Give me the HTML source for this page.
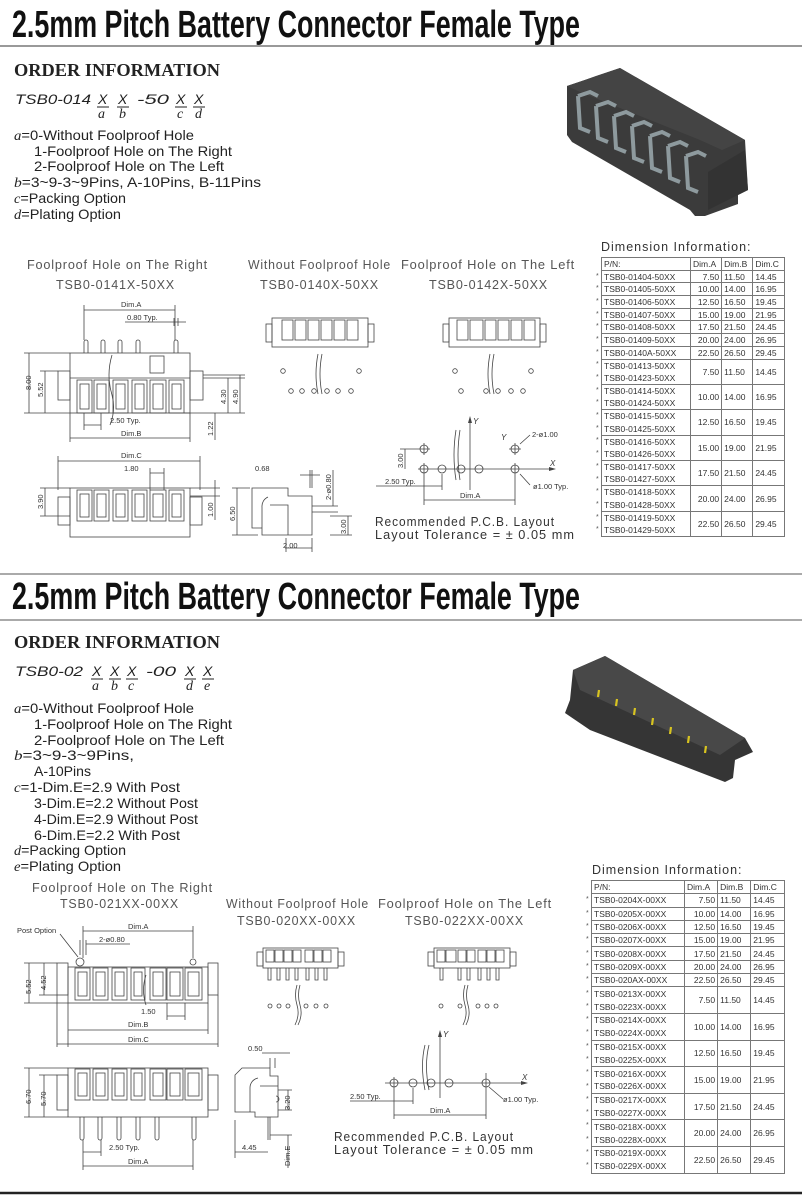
<!DOCTYPE html>
<html><head><meta charset="utf-8">
<style>
html,body{margin:0;padding:0;background:#fff;}
body{width:802px;height:1200px;position:relative;overflow:hidden;font-family:"Liberation Sans",sans-serif;}
svg{position:absolute;left:0;top:0;}
table.t{position:absolute;border-collapse:collapse;font-family:"Liberation Sans",sans-serif;font-size:8.5px;color:#333;}
table.t td{border:1px solid #777;padding:0 2px;line-height:10px;white-space:nowrap;}
table.t td.s{border:none;padding:0;width:5px;font-size:7px;color:#555;text-align:left;}
table.t td.n{text-align:right;}
.dt{position:absolute;font-size:12.5px;color:#333;letter-spacing:1px;}
</style></head><body>
<svg width="802" height="1200" viewBox="0 0 802 1200" font-family="Liberation Sans, sans-serif">
<!-- Titles -->
<text x="12" y="37" font-size="38" font-weight="bold" textLength="568" lengthAdjust="spacingAndGlyphs" fill="#111">2.5mm Pitch Battery Connector Female Type</text>
<line x1="0" y1="46" x2="802" y2="46" stroke="#999" stroke-width="2"/>
<line x1="0" y1="574" x2="802" y2="574" stroke="#aaa" stroke-width="2"/>
<text x="12" y="609" font-size="38" font-weight="bold" textLength="568" lengthAdjust="spacingAndGlyphs" fill="#111">2.5mm Pitch Battery Connector Female Type</text>
<line x1="0" y1="620" x2="802" y2="620" stroke="#aaa" stroke-width="2"/>
<line x1="0" y1="1193" x2="802" y2="1193" stroke="#222" stroke-width="2.5"/>

<!-- Order info 1 -->
<g fill="#222">
<text x="14" y="76" font-family="Liberation Serif, serif" font-size="18" font-weight="bold" textLength="206" lengthAdjust="spacingAndGlyphs">ORDER INFORMATION</text>
<g font-style="italic" font-size="14">
<text x="15" y="104" textLength="76" lengthAdjust="spacingAndGlyphs">TSB0-014</text>
<text x="98" y="104">X</text><text x="118" y="104">X</text>
<text x="137" y="104" textLength="32" lengthAdjust="spacingAndGlyphs">-50</text>
<text x="176" y="104">X</text><text x="194" y="104">X</text>
<text x="98" y="118" font-family="Liberation Serif, serif">a</text><text x="119" y="118" font-family="Liberation Serif, serif">b</text>
<text x="177" y="118" font-family="Liberation Serif, serif">c</text><text x="195" y="118" font-family="Liberation Serif, serif">d</text>
</g>
<g stroke="#222" stroke-width="1"><line x1="97" y1="107" x2="109" y2="107"/><line x1="117" y1="107" x2="129" y2="107"/><line x1="175" y1="107" x2="187" y2="107"/><line x1="193" y1="107" x2="205" y2="107"/></g>
<g font-size="14">
<text x="14" y="140" textLength="180" lengthAdjust="spacingAndGlyphs"><tspan font-style="italic" font-family="Liberation Serif, serif">a</tspan>=0-Without Foolproof Hole</text>
<text x="34" y="156" textLength="198" lengthAdjust="spacingAndGlyphs">1-Foolproof Hole on The Right</text>
<text x="34" y="171" textLength="190" lengthAdjust="spacingAndGlyphs">2-Foolproof Hole on The Left</text>
<text x="14" y="187" textLength="247" lengthAdjust="spacingAndGlyphs"><tspan font-style="italic" font-family="Liberation Serif, serif">b</tspan>=3~9-3~9Pins, A-10Pins, B-11Pins</text>
<text x="14" y="203" textLength="112" lengthAdjust="spacingAndGlyphs"><tspan font-style="italic" font-family="Liberation Serif, serif">c</tspan>=Packing Option</text>
<text x="14" y="219" textLength="107" lengthAdjust="spacingAndGlyphs"><tspan font-style="italic" font-family="Liberation Serif, serif">d</tspan>=Plating Option</text>
</g>
</g>

<!-- Order info 2 -->
<g fill="#222">
<text x="14" y="648" font-family="Liberation Serif, serif" font-size="18" font-weight="bold" textLength="206" lengthAdjust="spacingAndGlyphs">ORDER INFORMATION</text>
<g font-style="italic" font-size="14">
<text x="15" y="676" textLength="68" lengthAdjust="spacingAndGlyphs">TSB0-02</text>
<text x="92" y="676">X</text><text x="110" y="676">X</text><text x="127" y="676">X</text>
<text x="146" y="676" textLength="30" lengthAdjust="spacingAndGlyphs">-00</text>
<text x="185" y="676">X</text><text x="203" y="676">X</text>
<g font-family="Liberation Serif, serif"><text x="92" y="690">a</text><text x="111" y="690">b</text><text x="128" y="690">c</text><text x="186" y="690">d</text><text x="204" y="690">e</text></g>
</g>
<g stroke="#222" stroke-width="1"><line x1="91" y1="679" x2="103" y2="679"/><line x1="109" y1="679" x2="121" y2="679"/><line x1="126" y1="679" x2="138" y2="679"/><line x1="184" y1="679" x2="196" y2="679"/><line x1="202" y1="679" x2="214" y2="679"/></g>
<g font-size="14">
<text x="14" y="713" textLength="180" lengthAdjust="spacingAndGlyphs"><tspan font-style="italic" font-family="Liberation Serif, serif">a</tspan>=0-Without Foolproof Hole</text>
<text x="34" y="729" textLength="198" lengthAdjust="spacingAndGlyphs">1-Foolproof Hole on The Right</text>
<text x="34" y="745" textLength="190" lengthAdjust="spacingAndGlyphs">2-Foolproof Hole on The Left</text>
<text x="14" y="760" textLength="120" lengthAdjust="spacingAndGlyphs"><tspan font-style="italic" font-family="Liberation Serif, serif">b</tspan>=3~9-3~9Pins,</text>
<text x="34" y="776" textLength="57" lengthAdjust="spacingAndGlyphs">A-10Pins</text>
<text x="14" y="792" textLength="166" lengthAdjust="spacingAndGlyphs"><tspan font-style="italic" font-family="Liberation Serif, serif">c</tspan>=1-Dim.E=2.9 With Post</text>
<text x="34" y="808" textLength="164" lengthAdjust="spacingAndGlyphs">3-Dim.E=2.2 Without Post</text>
<text x="34" y="824" textLength="164" lengthAdjust="spacingAndGlyphs">4-Dim.E=2.9 Without Post</text>
<text x="34" y="840" textLength="146" lengthAdjust="spacingAndGlyphs">6-Dim.E=2.2 With Post</text>
<text x="14" y="855" textLength="112" lengthAdjust="spacingAndGlyphs"><tspan font-style="italic" font-family="Liberation Serif, serif">d</tspan>=Packing Option</text>
<text x="14" y="871" textLength="107" lengthAdjust="spacingAndGlyphs"><tspan font-style="italic" font-family="Liberation Serif, serif">e</tspan>=Plating Option</text>
</g>
</g>

<!-- 3D image 1 -->
<g>
<polygon points="567,86 585,80 596,76 620,68 745,140 748,190 738,195 738,204 705,216 695,216 690,210 572,142 567,135" fill="#3b3b3b"/>
<polygon points="567,86 620,68 745,140 722,150 700,140 580,92" fill="#444"/>
<g fill="none" stroke="#8e9a9e" stroke-width="4">
<path d="M578,96 L590,92 L598,96 M578,96 L580,128 L590,132"/>
<path d="M596,106 L608,102 L616,106 M596,106 L598,138 L608,142"/>
<path d="M614,116 L626,112 L634,116 M614,116 L616,148 L626,152"/>
<path d="M632,126 L644,122 L652,126 M632,126 L634,158 L644,162"/>
<path d="M650,136 L662,132 L670,136 M650,136 L652,168 L662,172"/>
<path d="M668,146 L680,142 L688,146 M668,146 L670,178 L680,182"/>
<path d="M686,156 L698,152 L706,156 M686,156 L688,188 L698,192"/>
</g>
<polygon points="708,172 745,150 748,190 708,210" fill="#333"/>
</g>

<!-- 3D image 2 -->
<g>
<polygon points="573,670 605,656 612,660 745,738 753,752 735,760 733,778 725,782 590,730 565,713 570,700" fill="#353535"/>
<polygon points="573,670 605,656 745,738 720,755 580,690" fill="#484848"/>
<g stroke="#d8c420" stroke-width="2.2">
<line x1="599" y1="690" x2="598" y2="697"/><line x1="617" y1="699" x2="616" y2="706"/><line x1="635" y1="708" x2="634" y2="715"/><line x1="653" y1="718" x2="652" y2="725"/><line x1="671" y1="727" x2="670" y2="734"/><line x1="689" y1="736" x2="688" y2="743"/><line x1="706" y1="746" x2="705" y2="753"/>
</g>
</g>

<!-- ===== Section 1 drawings ===== -->
<g font-size="12.5" fill="#555" letter-spacing="0.8">
<text x="27" y="269" textLength="181" lengthAdjust="spacingAndGlyphs">Foolproof Hole on The Right</text>
<text x="56" y="289" textLength="119" lengthAdjust="spacingAndGlyphs">TSB0-0141X-50XX</text>
<text x="248" y="269" textLength="143" lengthAdjust="spacingAndGlyphs">Without Foolproof Hole</text>
<text x="401" y="269" textLength="174" lengthAdjust="spacingAndGlyphs">Foolproof Hole on The Left</text>
<text x="260" y="289" textLength="119" lengthAdjust="spacingAndGlyphs">TSB0-0140X-50XX</text>
<text x="429" y="289" textLength="119" lengthAdjust="spacingAndGlyphs">TSB0-0142X-50XX</text>
</g>
<g fill="none" stroke="#444" stroke-width="0.8">
<path d="M84,353 V342 a2,2 0 0 1 4,0 V353 M101,353 V342 a2,2 0 0 1 4,0 V353 M118,353 V342 a2,2 0 0 1 4,0 V353 M136,353 V342 a2,2 0 0 1 4,0 V353 M174,353 V342 a2,2 0 0 1 4,0 V353"/>
<rect x="70" y="353" width="120" height="60"/>
<rect x="58" y="371" width="12" height="29"/><rect x="190" y="371" width="13" height="29"/>
<line x1="70" y1="378" x2="190" y2="378"/>
<rect x="150" y="356" width="14" height="17"/>
<rect x="77" y="380" width="15" height="33"/><rect x="80" y="384" width="9" height="25"/>
<rect x="94" y="380" width="15" height="33"/><rect x="97" y="384" width="9" height="25"/>
<rect x="113" y="380" width="15" height="33"/><rect x="116" y="384" width="9" height="25"/>
<rect x="132" y="380" width="15" height="33"/><rect x="135" y="384" width="9" height="25"/>
<rect x="150" y="380" width="16" height="33"/><rect x="153" y="384" width="10" height="25"/>
<rect x="169" y="380" width="15" height="33"/><rect x="172" y="384" width="9" height="25"/>
<path d="M112,355 q-6,20 0,40 q4,15 -2,30" />
<path d="M84,310 H175 M84,305 V340 M175,305 V340 M125,322 H186 M174,318 V326 M178,318 V326"/>
<path d="M29,353 V413 M24,353 H70 M24,413 H70 M45,371 V413 M40,371 H58"/>
<path d="M228,378 V413 M240,375 V413 M203,378 H245 M184,413 H245 M215,413 V440 M203,375 H245"/>
<path d="M84,425 H101 M84,413 V430 M101,413 V430 M70,438 H190 M70,413 V442 M190,413 V442"/>
<path d="M58,461 H200 M58,456 V490 M200,456 V490 M150,473 H164 M150,468 V490 M164,468 V490"/>
<rect x="70" y="488" width="120" height="49"/>
<rect x="58" y="497" width="12" height="28"/><rect x="190" y="497" width="12" height="28"/>
<rect x="77" y="490" width="15" height="31"/><rect x="80" y="494" width="9" height="23"/>
<rect x="94" y="490" width="15" height="31"/><rect x="97" y="494" width="9" height="23"/>
<rect x="113" y="490" width="15" height="31"/><rect x="116" y="494" width="9" height="23"/>
<rect x="132" y="490" width="15" height="31"/><rect x="135" y="494" width="9" height="23"/>
<rect x="150" y="490" width="16" height="31"/><rect x="153" y="494" width="10" height="23"/>
<rect x="169" y="490" width="15" height="31"/><rect x="172" y="494" width="9" height="23"/>
<path d="M45,488 V516 M40,488 H70 M40,516 H70 M215,480 V520 M190,488 H220 M190,496 H220"/>
<path d="M252,488 H288 V496 H312 V535 H262 V528 H252 Z M268,497 a10,10 0 0 0 -6,10 V528 M270,505 H288 V535"/>
<path d="M237,488 V535 M232,488 H250 M232,535 H258 M300,475 H320 M310,470 V488 M312,470 V488 M333,470 V506 M312,506 H338 M312,512 H338 M348,516 V535 M330,516 H352 M330,535 H352 M285,548 H312 M312,538 V552 M286,538 V552"/>
<rect x="272" y="318" width="96" height="29"/><rect x="266" y="324" width="6" height="18"/><rect x="368" y="324" width="6" height="18"/>
<rect x="282" y="320" width="11" height="20"/><rect x="295" y="320" width="11" height="20"/><rect x="308" y="320" width="11" height="20"/><rect x="321" y="320" width="11" height="20"/><rect x="334" y="320" width="11" height="20"/><rect x="347" y="320" width="11" height="20"/>
<rect x="449" y="318" width="91" height="29"/><rect x="443" y="324" width="6" height="18"/><rect x="540" y="324" width="6" height="18"/>
<rect x="457" y="320" width="11" height="20"/><rect x="470" y="320" width="13" height="20"/><rect x="485" y="320" width="11" height="20"/><rect x="498" y="320" width="11" height="20"/><rect x="511" y="320" width="11" height="20"/><rect x="524" y="320" width="11" height="20"/>
<path d="M318,354 q-4,20 0,40 M322,354 q-4,20 0,40 M490,354 q-4,20 0,40 M494,354 q-4,20 0,40"/>
<circle cx="283" cy="371" r="2.3"/><circle cx="359" cy="371" r="2.3"/>
<circle cx="291" cy="391" r="2.3"/><circle cx="302" cy="391" r="2.3"/><circle cx="314" cy="391" r="2.3"/><circle cx="327" cy="391" r="2.3"/><circle cx="338" cy="391" r="2.3"/><circle cx="351" cy="391" r="2.3"/>
<circle cx="455" cy="371" r="2.3"/><circle cx="531" cy="371" r="2.3"/>
<circle cx="461" cy="391" r="2.3"/><circle cx="486" cy="391" r="2.3"/><circle cx="498" cy="391" r="2.3"/><circle cx="511" cy="391" r="2.3"/><circle cx="523" cy="391" r="2.3"/>
<path d="M470,420 V490 M418,469 H553 M456,430 q-4,25 0,50 M460,430 q-4,25 0,50"/>
<circle cx="424" cy="469" r="4"/><circle cx="442" cy="469" r="4"/><circle cx="461" cy="469" r="4"/><circle cx="479" cy="469" r="4"/><circle cx="515" cy="469" r="4"/>
<circle cx="424" cy="449" r="4"/><circle cx="515" cy="449" r="4"/>
<path d="M424,443 V455 M418,449 H430 M515,443 V455 M509,449 H521 M424,463 V505 M515,463 V505 M442,474 V490 M376,486 H442 M424,500 H515 M405,449 V469 M400,449 H420 M520,444 L530,435 M520,474 L530,485"/>
</g>
<g fill="#444" stroke="none"><polygon points="470,416 468,423 472,423"/><polygon points="556,469 549,467 549,471"/></g>
<g font-size="7.5" fill="#333">
<text x="121" y="307">Dim.A</text><text x="127" y="320">0.80 Typ.</text>
<text x="110" y="423">2.50 Typ.</text><text x="121" y="436">Dim.B</text>
<text x="121" y="458">Dim.C</text><text x="124" y="471">1.80</text>
<text x="255" y="471">0.68</text><text x="283" y="548">2.00</text>
<text x="385" y="484">2.50 Typ.</text><text x="460" y="498">Dim.A</text>
<text x="532" y="437">2-ø1.00</text><text x="533" y="489">ø1.00 Typ.</text>
<text x="501" y="440" font-style="italic" font-size="8">Y</text><text x="473" y="424" font-style="italic" font-size="8">Y</text><text x="550" y="466" font-style="italic" font-size="8">X</text>
<text transform="translate(31,390) rotate(-90)">8.00</text>
<text transform="translate(43,397) rotate(-90)">5.52</text>
<text transform="translate(226,404) rotate(-90)">4.30</text>
<text transform="translate(238,404) rotate(-90)">4.90</text>
<text transform="translate(213,436) rotate(-90)">1.22</text>
<text transform="translate(43,509) rotate(-90)">3.90</text>
<text transform="translate(213,517) rotate(-90)">1.00</text>
<text transform="translate(235,521) rotate(-90)">6.50</text>
<text transform="translate(331,500) rotate(-90)">2-ø0.80</text>
<text transform="translate(346,534) rotate(-90)">3.00</text>
<text transform="translate(403,468) rotate(-90)">3.00</text>
</g>
<g font-size="12.5" fill="#333" letter-spacing="1">
<text x="375" y="526" textLength="180" lengthAdjust="spacingAndGlyphs">Recommended   P.C.B. Layout</text>
<text x="375" y="539" textLength="200" lengthAdjust="spacingAndGlyphs">Layout Tolerance = ± 0.05 mm</text>
</g>

<!-- ===== Section 2 drawings ===== -->
<g font-size="12.5" fill="#555" letter-spacing="0.8">
<text x="32" y="892" textLength="181" lengthAdjust="spacingAndGlyphs">Foolproof Hole on The Right</text>
<text x="60" y="908" textLength="119" lengthAdjust="spacingAndGlyphs">TSB0-021XX-00XX</text>
<text x="226" y="908" textLength="143" lengthAdjust="spacingAndGlyphs">Without Foolproof Hole</text>
<text x="378" y="908" textLength="174" lengthAdjust="spacingAndGlyphs">Foolproof Hole on The Left</text>
<text x="237" y="925" textLength="119" lengthAdjust="spacingAndGlyphs">TSB0-020XX-00XX</text>
<text x="405" y="925" textLength="119" lengthAdjust="spacingAndGlyphs">TSB0-022XX-00XX</text>
</g>
<g fill="none" stroke="#444" stroke-width="0.8">
<rect x="68" y="967" width="140" height="36"/>
<rect x="57" y="963" width="11" height="32"/><rect x="208" y="963" width="10" height="32"/>
<circle cx="80" cy="962" r="4"/><circle cx="193" cy="962" r="3"/>
<rect x="75" y="968" width="15" height="32"/><rect x="78" y="972" width="9" height="24"/>
<rect x="93" y="968" width="15" height="32"/><rect x="96" y="972" width="9" height="24"/>
<rect x="112" y="968" width="15" height="32"/><rect x="115" y="972" width="9" height="24"/>
<rect x="131" y="968" width="14" height="32"/><rect x="134" y="972" width="8" height="24"/>
<rect x="150" y="968" width="16" height="32"/><rect x="153" y="972" width="10" height="24"/>
<rect x="167" y="968" width="16" height="32"/><rect x="170" y="972" width="10" height="24"/>
<rect x="185" y="968" width="17" height="32"/><rect x="188" y="972" width="11" height="24"/>
<path d="M146,975 q-5,15 0,30"/>
<path d="M83,931 H193 M83,926 V958 M193,926 V958 M86,944 H130 M80,940 V955 M86,940 V955 M60,934 L78,957"/>
<path d="M29,963 V1003 M24,963 H57 M24,1003 H68 M44,963 V995 M39,995 H57"/>
<path d="M167,1016 H185 M167,1003 V1020 M185,1003 V1020 M68,1030 H208 M68,1003 V1047 M208,1003 V1034 M57,1044 H218 M57,995 V1047 M218,995 V1047"/>
<rect x="68" y="1068" width="140" height="49"/>
<rect x="57" y="1075" width="11" height="35"/><rect x="208" y="1075" width="10" height="35"/>
<rect x="75" y="1069" width="15" height="31"/><rect x="78" y="1073" width="9" height="23"/>
<rect x="93" y="1069" width="15" height="31"/><rect x="96" y="1073" width="9" height="23"/>
<rect x="112" y="1069" width="15" height="31"/><rect x="115" y="1073" width="9" height="23"/>
<rect x="131" y="1069" width="14" height="31"/><rect x="134" y="1073" width="8" height="23"/>
<rect x="150" y="1069" width="16" height="31"/><rect x="153" y="1073" width="10" height="23"/>
<rect x="167" y="1069" width="16" height="31"/><rect x="170" y="1073" width="10" height="23"/>
<rect x="185" y="1069" width="17" height="31"/><rect x="188" y="1073" width="11" height="23"/>
<path d="M80,1117 V1138 a2,2 0 0 0 4,0 V1117 M98,1117 V1138 a2,2 0 0 0 4,0 V1117 M117,1117 V1138 a2,2 0 0 0 4,0 V1117 M136,1117 V1138 a2,2 0 0 0 4,0 V1117 M155,1117 V1138 a2,2 0 0 0 4,0 V1117 M192,1117 V1138 a2,2 0 0 0 4,0 V1117"/>
<path d="M29,1068 V1117 M24,1068 H68 M24,1117 H68 M44,1075 V1117 M39,1075 H57"/>
<path d="M83,1152 H101 M83,1140 V1170 M101,1140 V1156 M83,1166 H193 M193,1140 V1170"/>
<path d="M242,1068 H270 V1076 H278 V1117 H255 V1112 H235 V1075 Z M258,1078 a10,10 0 0 0 -8,10 V1112 M260,1086 H278"/>
<path d="M268,1117 V1140 M270,1117 V1140 M276,1096 a3,3 0 0 1 0,6"/>
<path d="M270,1058 V1068 M275,1058 V1068 M262,1053 H290 M288,1090 V1110 M278,1090 H292 M278,1110 H292 M235,1120 V1158 M235,1152 H268 M288,1135 V1168 M270,1135 H292"/>
<rect x="263" y="948" width="75" height="20"/><rect x="257" y="952" width="6" height="14"/><rect x="338" y="952" width="6" height="14"/>
<rect x="266" y="950" width="8" height="12"/><rect x="275" y="950" width="8" height="12"/><rect x="284" y="950" width="8" height="12"/><rect x="293" y="950" width="8" height="12"/><rect x="305" y="950" width="8" height="12"/><rect x="314" y="950" width="8" height="12"/><rect x="323" y="950" width="8" height="12"/>
<path d="M268,968 V980 h3 V968 M277,968 V980 h3 V968 M286,968 V980 h3 V968 M295,968 V980 h3 V968 M306,968 V980 h3 V968 M315,968 V980 h3 V968 M324,968 V980 h3 V968"/>
<rect x="434" y="948" width="76" height="20"/><rect x="428" y="952" width="6" height="14"/><rect x="510" y="952" width="6" height="14"/>
<rect x="437" y="950" width="8" height="12"/><rect x="446" y="950" width="10" height="12"/><rect x="458" y="950" width="8" height="12"/><rect x="467" y="950" width="8" height="12"/><rect x="478" y="950" width="8" height="12"/><rect x="487" y="950" width="8" height="12"/><rect x="496" y="950" width="8" height="12"/>
<path d="M440,968 V980 h3 V968 M458,968 V980 h3 V968 M467,968 V980 h3 V968 M478,968 V980 h3 V968 M487,968 V980 h3 V968 M496,968 V980 h3 V968"/>
<path d="M297,985 q-3,10 0,20 q3,10 -2,20 M300,985 q-3,10 0,20 q3,10 -2,20 M465,985 q-3,10 0,20 q3,10 -2,20 M468,985 q-3,10 0,20 q3,10 -2,20"/>
<circle cx="270" cy="1006" r="2"/><circle cx="279" cy="1006" r="2"/><circle cx="288" cy="1006" r="2"/><circle cx="306" cy="1006" r="2"/><circle cx="316" cy="1006" r="2"/><circle cx="326" cy="1006" r="2"/>
<circle cx="441" cy="1006" r="2"/><circle cx="460" cy="1006" r="2"/><circle cx="478" cy="1006" r="2"/><circle cx="487" cy="1006" r="2"/><circle cx="496" cy="1006" r="2"/>
<path d="M440,1034 V1098 M385,1083 H525 M425,1045 q-5,20 0,45 M429,1045 q-5,20 0,45"/>
<circle cx="394" cy="1083" r="4"/><circle cx="413" cy="1083" r="4"/><circle cx="431" cy="1083" r="4"/><circle cx="449" cy="1083" r="4"/><circle cx="486" cy="1083" r="4"/>
<path d="M394,1077 V1119 M486,1073 V1119 M413,1088 V1104 M350,1101 H413 M394,1115 H486 M489,1087 L503,1099"/>
</g>
<g fill="#444" stroke="none"><polygon points="440,1030 438,1037 442,1037"/><polygon points="528,1083 521,1081 521,1085"/></g>
<g font-size="7.5" fill="#333">
<text x="17" y="933">Post Option</text><text x="128" y="929">Dim.A</text><text x="99" y="942">2-ø0.80</text>
<text x="141" y="1014">1.50</text><text x="128" y="1027">Dim.B</text><text x="128" y="1042">Dim.C</text>
<text x="109" y="1150">2.50 Typ.</text><text x="128" y="1164">Dim.A</text>
<text x="248" y="1051">0.50</text><text x="242" y="1150">4.45</text>
<text x="350" y="1099">2.50 Typ.</text><text x="430" y="1113">Dim.A</text><text x="503" y="1102">ø1.00 Typ.</text>
<text x="443" y="1037" font-style="italic" font-size="8">Y</text><text x="522" y="1080" font-style="italic" font-size="8">X</text>
<text transform="translate(31,994) rotate(-90)">5.52</text>
<text transform="translate(46,990) rotate(-90)">4.52</text>
<text transform="translate(31,1104) rotate(-90)">6.70</text>
<text transform="translate(46,1106) rotate(-90)">5.70</text>
<text transform="translate(290,1110) rotate(-90)">3.20</text>
<text transform="translate(290,1166) rotate(-90)">Dim.E</text>
</g>
<g font-size="12.5" fill="#333" letter-spacing="1">
<text x="334" y="1141" textLength="180" lengthAdjust="spacingAndGlyphs">Recommended   P.C.B. Layout</text>
<text x="334" y="1154" textLength="200" lengthAdjust="spacingAndGlyphs">Layout Tolerance = ± 0.05 mm</text>
</g>
</svg>

<div class="dt" style="left:601px;top:240px;">Dimension Information:</div>
<table class="t" style="left:596px;top:257px;width:189px;">
<tr style="height:12.7px"><td class="s"></td><td style="width:84px">P/N:</td><td>Dim.A</td><td>Dim.B</td><td>Dim.C</td></tr>
<tr style="height:12.7px"><td class="s">*</td><td>TSB0-01404-50XX</td><td class="n">7.50</td><td>11.50</td><td>14.45</td></tr>
<tr style="height:12.7px"><td class="s">*</td><td>TSB0-01405-50XX</td><td class="n">10.00</td><td>14.00</td><td>16.95</td></tr>
<tr style="height:12.7px"><td class="s">*</td><td>TSB0-01406-50XX</td><td class="n">12.50</td><td>16.50</td><td>19.45</td></tr>
<tr style="height:12.7px"><td class="s">*</td><td>TSB0-01407-50XX</td><td class="n">15.00</td><td>19.00</td><td>21.95</td></tr>
<tr style="height:12.7px"><td class="s">*</td><td>TSB0-01408-50XX</td><td class="n">17.50</td><td>21.50</td><td>24.45</td></tr>
<tr style="height:12.7px"><td class="s">*</td><td>TSB0-01409-50XX</td><td class="n">20.00</td><td>24.00</td><td>26.95</td></tr>
<tr style="height:12.7px"><td class="s">*</td><td>TSB0-0140A-50XX</td><td class="n">22.50</td><td>26.50</td><td>29.45</td></tr>
<tr style="height:12.7px"><td class="s">*</td><td style="border-bottom:none">TSB0-01413-50XX</td><td class="n" rowspan="2">7.50</td><td rowspan="2">11.50</td><td rowspan="2">14.45</td></tr>
<tr style="height:12.7px"><td class="s">*</td><td style="border-top:none">TSB0-01423-50XX</td></tr>
<tr style="height:12.7px"><td class="s">*</td><td style="border-bottom:none">TSB0-01414-50XX</td><td class="n" rowspan="2">10.00</td><td rowspan="2">14.00</td><td rowspan="2">16.95</td></tr>
<tr style="height:12.7px"><td class="s">*</td><td style="border-top:none">TSB0-01424-50XX</td></tr>
<tr style="height:12.7px"><td class="s">*</td><td style="border-bottom:none">TSB0-01415-50XX</td><td class="n" rowspan="2">12.50</td><td rowspan="2">16.50</td><td rowspan="2">19.45</td></tr>
<tr style="height:12.7px"><td class="s">*</td><td style="border-top:none">TSB0-01425-50XX</td></tr>
<tr style="height:12.7px"><td class="s">*</td><td style="border-bottom:none">TSB0-01416-50XX</td><td class="n" rowspan="2">15.00</td><td rowspan="2">19.00</td><td rowspan="2">21.95</td></tr>
<tr style="height:12.7px"><td class="s">*</td><td style="border-top:none">TSB0-01426-50XX</td></tr>
<tr style="height:12.7px"><td class="s">*</td><td style="border-bottom:none">TSB0-01417-50XX</td><td class="n" rowspan="2">17.50</td><td rowspan="2">21.50</td><td rowspan="2">24.45</td></tr>
<tr style="height:12.7px"><td class="s">*</td><td style="border-top:none">TSB0-01427-50XX</td></tr>
<tr style="height:12.7px"><td class="s">*</td><td style="border-bottom:none">TSB0-01418-50XX</td><td class="n" rowspan="2">20.00</td><td rowspan="2">24.00</td><td rowspan="2">26.95</td></tr>
<tr style="height:12.7px"><td class="s">*</td><td style="border-top:none">TSB0-01428-50XX</td></tr>
<tr style="height:12.7px"><td class="s">*</td><td style="border-bottom:none">TSB0-01419-50XX</td><td class="n" rowspan="2">22.50</td><td rowspan="2">26.50</td><td rowspan="2">29.45</td></tr>
<tr style="height:12.7px"><td class="s">*</td><td style="border-top:none">TSB0-01429-50XX</td></tr>
</table>

<div class="dt" style="left:592px;top:863px;">Dimension Information:</div>
<table class="t" style="left:586px;top:880px;width:199px;">
<tr style="height:13.3px"><td class="s"></td><td style="width:88px">P/N:</td><td>Dim.A</td><td>Dim.B</td><td>Dim.C</td></tr>
<tr style="height:13.3px"><td class="s">*</td><td>TSB0-0204X-00XX</td><td class="n">7.50</td><td>11.50</td><td>14.45</td></tr>
<tr style="height:13.3px"><td class="s">*</td><td>TSB0-0205X-00XX</td><td class="n">10.00</td><td>14.00</td><td>16.95</td></tr>
<tr style="height:13.3px"><td class="s">*</td><td>TSB0-0206X-00XX</td><td class="n">12.50</td><td>16.50</td><td>19.45</td></tr>
<tr style="height:13.3px"><td class="s">*</td><td>TSB0-0207X-00XX</td><td class="n">15.00</td><td>19.00</td><td>21.95</td></tr>
<tr style="height:13.3px"><td class="s">*</td><td>TSB0-0208X-00XX</td><td class="n">17.50</td><td>21.50</td><td>24.45</td></tr>
<tr style="height:13.3px"><td class="s">*</td><td>TSB0-0209X-00XX</td><td class="n">20.00</td><td>24.00</td><td>26.95</td></tr>
<tr style="height:13.3px"><td class="s">*</td><td>TSB0-020AX-00XX</td><td class="n">22.50</td><td>26.50</td><td>29.45</td></tr>
<tr style="height:13.3px"><td class="s">*</td><td style="border-bottom:none">TSB0-0213X-00XX</td><td class="n" rowspan="2">7.50</td><td rowspan="2">11.50</td><td rowspan="2">14.45</td></tr>
<tr style="height:13.3px"><td class="s">*</td><td style="border-top:none">TSB0-0223X-00XX</td></tr>
<tr style="height:13.3px"><td class="s">*</td><td style="border-bottom:none">TSB0-0214X-00XX</td><td class="n" rowspan="2">10.00</td><td rowspan="2">14.00</td><td rowspan="2">16.95</td></tr>
<tr style="height:13.3px"><td class="s">*</td><td style="border-top:none">TSB0-0224X-00XX</td></tr>
<tr style="height:13.3px"><td class="s">*</td><td style="border-bottom:none">TSB0-0215X-00XX</td><td class="n" rowspan="2">12.50</td><td rowspan="2">16.50</td><td rowspan="2">19.45</td></tr>
<tr style="height:13.3px"><td class="s">*</td><td style="border-top:none">TSB0-0225X-00XX</td></tr>
<tr style="height:13.3px"><td class="s">*</td><td style="border-bottom:none">TSB0-0216X-00XX</td><td class="n" rowspan="2">15.00</td><td rowspan="2">19.00</td><td rowspan="2">21.95</td></tr>
<tr style="height:13.3px"><td class="s">*</td><td style="border-top:none">TSB0-0226X-00XX</td></tr>
<tr style="height:13.3px"><td class="s">*</td><td style="border-bottom:none">TSB0-0217X-00XX</td><td class="n" rowspan="2">17.50</td><td rowspan="2">21.50</td><td rowspan="2">24.45</td></tr>
<tr style="height:13.3px"><td class="s">*</td><td style="border-top:none">TSB0-0227X-00XX</td></tr>
<tr style="height:13.3px"><td class="s">*</td><td style="border-bottom:none">TSB0-0218X-00XX</td><td class="n" rowspan="2">20.00</td><td rowspan="2">24.00</td><td rowspan="2">26.95</td></tr>
<tr style="height:13.3px"><td class="s">*</td><td style="border-top:none">TSB0-0228X-00XX</td></tr>
<tr style="height:13.3px"><td class="s">*</td><td style="border-bottom:none">TSB0-0219X-00XX</td><td class="n" rowspan="2">22.50</td><td rowspan="2">26.50</td><td rowspan="2">29.45</td></tr>
<tr style="height:13.3px"><td class="s">*</td><td style="border-top:none">TSB0-0229X-00XX</td></tr>
</table>
</body></html>
